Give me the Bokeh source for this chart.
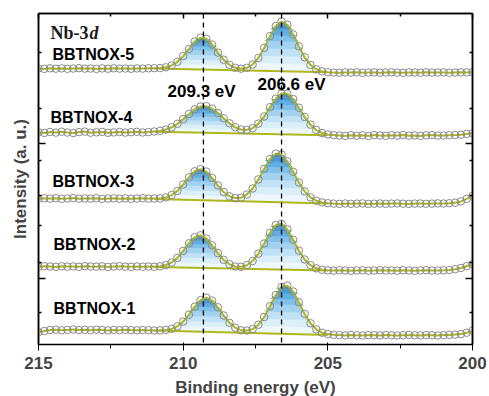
import numpy as np
from bokeh.plotting import figure
from bokeh.models import Range1d, FixedTicker, LinearAxis, Span, CustomLabelingPolicy
from bokeh.core.properties import value
from bokeh.embed import file_html
from bokeh.resources import INLINE

# ---------------- data ----------------
ENERGY = [215.0, 214.8, 214.6, 214.4, 214.2, 214.0, 213.8, 213.6, 213.4, 213.2,
          213.0, 212.8, 212.6, 212.4, 212.2, 212.0, 211.8, 211.6, 211.4, 211.2,
          211.0, 210.8, 210.6, 210.4, 210.2, 210.0, 209.8, 209.6, 209.4, 209.2,
          209.0, 208.8, 208.6, 208.4, 208.2, 208.0, 207.8, 207.6, 207.4, 207.2,
          207.0, 206.8, 206.6, 206.4, 206.2, 206.0, 205.8, 205.6, 205.4, 205.2,
          205.0, 204.8, 204.6, 204.4, 204.2, 204.0, 203.8, 203.6, 203.4, 203.2,
          203.0, 202.8, 202.6, 202.4, 202.2, 202.0, 201.8, 201.6, 201.4, 201.2,
          201.0, 200.8, 200.6, 200.4, 200.2, 200.0]

BBTNOX_1 = [12.3, 13.5, 14.5, 14.8, 14.2, 14.6, 15.0, 14.4, 14.7, 14.3,
            14.8, 14.5, 14.1, 14.6, 14.3, 14.7, 14.4, 14.2, 14.5, 14.3,
            14.0, 14.2, 14.6, 15.6, 18.2, 22.9, 29.8, 37.8, 44.3, 46.8,
            44.0, 37.2, 29.0, 21.7, 16.8, 14.2, 13.9, 15.4, 19.8, 27.5,
            38.3, 49.5, 57.5, 58.9, 53.0, 42.2, 30.6, 21.2, 15.1, 11.8,
            10.4, 9.7, 9.4, 9.1, 9.5, 9.2, 9.0, 9.4, 9.3, 9.1,
            9.5, 9.2, 9.0, 9.3, 9.6, 9.2, 9.1, 9.4, 9.3, 9.0,
            9.4, 9.6, 9.9, 10.4, 11.8, 13.8]

BBTNOX_2 = [77.8, 78.3, 78.0, 77.6, 78.2, 77.9, 78.1, 77.7, 78.3, 78.0,
            77.8, 78.2, 77.6, 78.0, 78.3, 77.9, 77.7, 78.1, 77.8, 78.0,
            77.7, 78.2, 79.4, 82.0, 86.7, 93.6, 101.2, 107.3, 109.2, 106.0,
            99.2, 91.4, 84.7, 80.3, 78.0, 77.7, 79.3, 83.5, 90.9, 101.0,
            111.7, 119.4, 120.7, 115.1, 104.8, 93.8, 85.0, 79.3, 76.2, 74.7,
            74.2, 73.9, 74.3, 74.0, 73.7, 74.1, 74.2, 73.8, 74.0, 74.3,
            73.9, 74.1, 73.8, 74.2, 74.0, 73.7, 74.1, 74.3, 73.9, 74.0,
            74.2, 74.5, 75.3, 76.5, 78.3, 80.5]

BBTNOX_3 = [145.8, 146.2, 145.9, 146.3, 145.7, 146.0, 146.4, 145.8, 146.1, 145.9,
            146.3, 145.6, 146.0, 146.2, 145.8, 146.1, 145.7, 146.0, 146.3, 145.9,
            146.0, 146.1, 147.1, 149.4, 153.6, 160.0, 167.2, 173.2, 175.4, 172.9,
            166.6, 159.1, 152.5, 148.2, 146.4, 146.8, 150.0, 156.0, 165.1, 175.7,
            185.4, 190.9, 190.1, 183.2, 172.7, 162.0, 153.1, 147.2, 143.8, 142.1,
            141.3, 140.9, 140.6, 141.0, 140.7, 140.9, 141.1, 140.6, 140.8, 141.0,
            140.7, 140.9, 141.1, 140.8, 140.6, 140.9, 141.0, 140.7, 140.9, 141.1,
            141.0, 141.3, 141.8, 143.1, 145.6, 148.6]

BBTNOX_4 = [212.3, 211.6, 212.5, 211.9, 212.8, 212.0, 211.5, 212.4, 212.9, 211.8,
            212.2, 212.6, 211.7, 212.1, 212.5, 211.9, 212.3, 212.7, 212.0, 212.4,
            213.0, 213.6, 214.9, 217.2, 220.7, 225.4, 230.5, 235.1, 238.0, 238.3,
            235.9, 231.5, 226.2, 221.2, 217.3, 215.0, 214.6, 216.4, 220.9, 228.0,
            237.3, 245.8, 250.9, 250.8, 245.5, 236.8, 227.6, 219.9, 214.6, 211.5,
            210.1, 209.4, 209.0, 208.6, 209.3, 208.8, 209.2, 208.5, 209.4, 209.0,
            208.7, 209.3, 208.9, 209.5, 208.8, 209.1, 208.6, 209.2, 209.4, 208.9,
            209.0, 209.3, 209.5, 209.8, 210.6, 211.3]

BBTNOX_5 = [276.0, 275.6, 276.2, 275.8, 276.1, 275.7, 276.0, 276.3, 275.9, 276.0,
            275.6, 276.1, 275.8, 276.2, 275.9, 276.0, 275.7, 276.1, 275.9, 276.2,
            276.3, 276.4, 277.2, 279.0, 282.7, 288.4, 295.6, 303.0, 306.8, 305.7,
            300.0, 291.9, 284.8, 279.7, 276.7, 275.8, 276.7, 280.0, 286.6, 296.6,
            308.4, 318.5, 323.0, 319.7, 310.1, 298.1, 287.2, 279.6, 275.2, 273.1,
            272.3, 272.0, 271.8, 272.1, 271.9, 272.2, 271.7, 272.0, 272.1, 271.8,
            272.0, 272.2, 271.9, 271.7, 272.1, 272.0, 271.8, 272.2, 271.9, 272.0,
            272.1, 271.8, 272.0, 272.2, 272.1, 272.3]

SAMPLES = ["BBTNOX-1", "BBTNOX-2", "BBTNOX-3", "BBTNOX-4", "BBTNOX-5"]
SERIES = [BBTNOX_1, BBTNOX_2, BBTNOX_3, BBTNOX_4, BBTNOX_5]

# background (Shirley-like) line end points
BG_ENERGY = [211.0, 205.0]
BG_START = [14.0, 77.6, 145.6, 212.7, 276.1]
BG_END = [9.5, 74.1, 141.1, 209.2, 272.3]

PEAK_POSITIONS = [209.3, 206.6]
PEAK_LABELS = ["209.3 eV", "206.6 eV"]

X_TICKS = [215, 210, 205, 200]
X_MINOR = [212.5, 207.5, 202.5]
Y_TICKS = [66, 201]
Y_MINOR = [32, 82, 119, 149, 184, 236, 292]

# ---------------- layout / style constants ----------------
LABEL_POS = [(214.48, 36.5), (214.48, 100), (214.52, 163), (214.585, 227.5), (214.52, 290.5)]
PEAK_LABEL_POS = [(210.54, 253), (207.43, 260)]
GREEN = "#aeb81a"
CIRCLE = "#8a8a8a"
FRACS = [0.0, 0.15, 0.3, 0.45, 0.6, 0.72, 0.84, 0.93]
BLUES = ["#eef7fc", "#dbeff9", "#c1e2f6", "#a3d2f0", "#82c1ea", "#60aee3",
         "#419cdb", "#2c8fd5"]
FONT = value("Liberation Sans")

p = figure(frame_width=434, frame_height=331,
           x_range=Range1d(215, 200), y_range=Range1d(0, 331),
           output_backend="svg", toolbar_location=None,
           min_border_left=38, min_border_right=17,
           min_border_top=13, min_border_bottom=52)

E = np.array(ENERGY)
split = 0.5 * (PEAK_POSITIONS[0] + PEAK_POSITIONS[1])
for k, ys in enumerate(SERIES):
    y = np.array(ys)
    mask = (E <= BG_ENERGY[0]) & (E >= BG_ENERGY[1])
    ex = E[mask]
    yx = y[mask]
    bg = np.interp(ex, [BG_ENERGY[1], BG_ENERGY[0]], [BG_END[k], BG_START[k]])
    h = np.clip(yx - bg, 0, None)
    left = ex > split
    H = np.where(left, h[left].max(), h[~left].max())
    for f, col in zip(FRACS, BLUES):
        lo = bg + f * H
        hi = np.maximum(bg + h, lo)
        p.varea(x=ex, y1=lo, y2=hi, fill_color=col, fill_alpha=1.0)
    p.line(BG_ENERGY, [BG_START[k], BG_END[k]], line_color=GREEN, line_width=2)
    p.line(E, y, line_color=GREEN, line_width=2)
    p.scatter(E, y, size=7.5, marker="circle", fill_alpha=0,
              line_color=CIRCLE, line_width=1)

for k, name in enumerate(SAMPLES):
    p.text(x=[LABEL_POS[k][0]], y=[LABEL_POS[k][1]], text=[name],
           text_font=FONT, text_font_style="bold", text_font_size="16px",
           text_align="left", text_baseline="middle", text_color="black")

for (px, py), lab in zip(PEAK_LABEL_POS, PEAK_LABELS):
    p.text(x=[px], y=[py], text=[lab], text_font=FONT, text_font_style="bold",
           text_font_size="17px", text_align="left", text_baseline="middle",
           text_color="black")

p.text(x=[214.585], y=[312], text=["Nb-3"], text_font=value("Liberation Serif"),
       text_font_style="bold", text_font_size="18px", text_align="left",
       text_baseline="alphabetic", text_color="#1a1a1a")
p.text(x=[213.24], y=[312], text=["d"], text_font=value("Liberation Serif"),
       text_font_style="bold italic", text_font_size="18px", text_align="left",
       text_baseline="alphabetic", text_color="#1a1a1a")

for pos in PEAK_POSITIONS:
    p.add_layout(Span(location=pos, dimension="height", line_color="black",
                      line_width=1.3, line_dash="5 4"))

p.xgrid.visible = False
p.ygrid.visible = False
p.outline_line_color = "black"
p.outline_line_width = 1.5

xt = FixedTicker(ticks=X_TICKS, minor_ticks=X_MINOR)
yt = FixedTicker(ticks=Y_TICKS, minor_ticks=Y_MINOR)

NO_LABELS = """
const n = indices.size
for (let i = 0; i < n; i++) indices.unset(i)
return indices
"""

for ax in p.xaxis:
    ax.ticker = xt
    ax.axis_label = "Binding energy (eV)"
    ax.axis_label_text_font = "Liberation Sans"
    ax.axis_label_text_font_style = "bold"
    ax.axis_label_text_font_size = "17px"
    ax.axis_label_standoff = 6
    ax.major_label_text_font = "Liberation Sans"
    ax.major_label_text_font_style = "bold"
    ax.major_label_text_font_size = "17px"
    ax.major_label_standoff = 6
for ax in p.yaxis:
    ax.ticker = yt
    ax.axis_label = "Intensity (a. u.)"
    ax.axis_label_text_font = "Liberation Sans"
    ax.axis_label_text_font_style = "bold"
    ax.axis_label_text_font_size = "17px"
    ax.axis_label_standoff = 9
    ax.major_label_text_font_size = "0px"
    ax.major_label_policy = CustomLabelingPolicy(code=NO_LABELS)
    ax.major_label_standoff = 0

top = LinearAxis(ticker=xt, major_label_policy=CustomLabelingPolicy(code=NO_LABELS),
                 major_label_text_font_size="0px", major_label_standoff=0)
right = LinearAxis(ticker=yt, major_label_policy=CustomLabelingPolicy(code=NO_LABELS),
                   major_label_text_font_size="0px", major_label_standoff=0)
p.add_layout(top, "above")
p.add_layout(right, "right")

for ax in [p.xaxis[0], p.yaxis[0], top, right]:
    ax.axis_line_width = 1.5
    ax.axis_line_color = "black"
    ax.major_tick_out = 0
    ax.minor_tick_out = 0
    ax.major_tick_line_width = 1.5
    ax.minor_tick_line_width = 1.5
for ax in [p.xaxis[0], top]:
    ax.major_tick_in = 5
    ax.minor_tick_in = 3
for ax in [p.yaxis[0], right]:
    ax.major_tick_in = 7
    ax.minor_tick_in = 3

open("out.html", "w").write(file_html(p, INLINE))
